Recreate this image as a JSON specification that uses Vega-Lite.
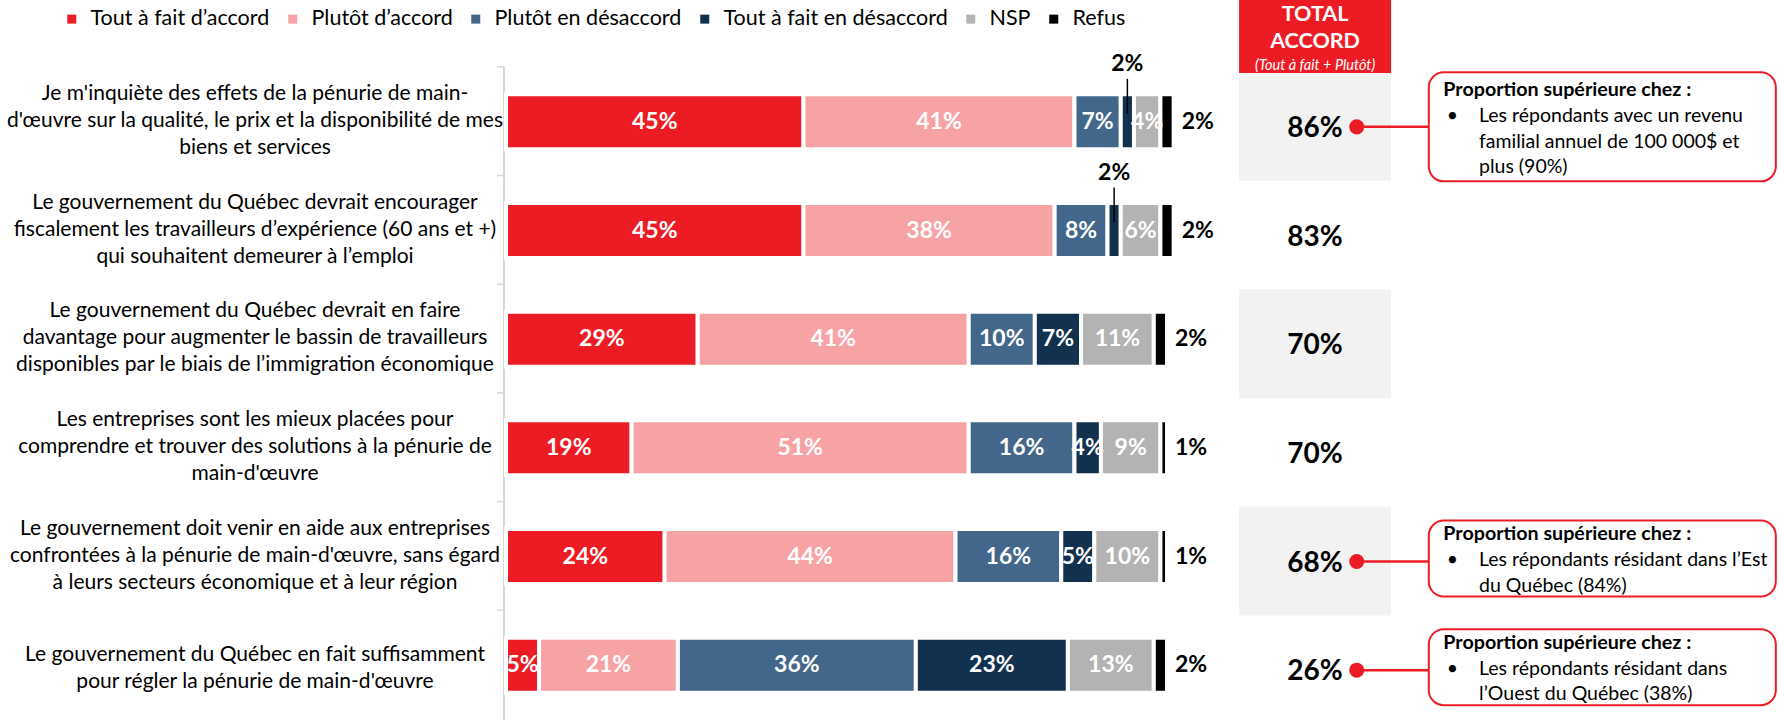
{
  "$schema": "https://vega.github.io/schema/vega-lite/v6.json",
  "width": 1276,
  "height": 720,
  "autosize": {"type": "none"},
  "padding": {"left": 503, "top": 0, "right": 0, "bottom": 0},
  "background": "white",
  "config": {"view": {"stroke": null}, "font": "Lato"},
  "datasets": {
    "bars": [
      {"row": 1, "k": 1, "cat": "Tout à fait d’accord", "v": 45},
      {"row": 1, "k": 2, "cat": "Plutôt d’accord", "v": 41},
      {"row": 1, "k": 3, "cat": "Plutôt en désaccord", "v": 7},
      {"row": 1, "k": 4, "cat": "Tout à fait en désaccord", "v": 2},
      {"row": 1, "k": 5, "cat": "NSP", "v": 4},
      {"row": 1, "k": 6, "cat": "Refus", "v": 2},
      {"row": 2, "k": 1, "cat": "Tout à fait d’accord", "v": 45},
      {"row": 2, "k": 2, "cat": "Plutôt d’accord", "v": 38},
      {"row": 2, "k": 3, "cat": "Plutôt en désaccord", "v": 8},
      {"row": 2, "k": 4, "cat": "Tout à fait en désaccord", "v": 2},
      {"row": 2, "k": 5, "cat": "NSP", "v": 6},
      {"row": 2, "k": 6, "cat": "Refus", "v": 2},
      {"row": 3, "k": 1, "cat": "Tout à fait d’accord", "v": 29},
      {"row": 3, "k": 2, "cat": "Plutôt d’accord", "v": 41},
      {"row": 3, "k": 3, "cat": "Plutôt en désaccord", "v": 10},
      {"row": 3, "k": 4, "cat": "Tout à fait en désaccord", "v": 7},
      {"row": 3, "k": 5, "cat": "NSP", "v": 11},
      {"row": 3, "k": 6, "cat": "Refus", "v": 2},
      {"row": 4, "k": 1, "cat": "Tout à fait d’accord", "v": 19},
      {"row": 4, "k": 2, "cat": "Plutôt d’accord", "v": 51},
      {"row": 4, "k": 3, "cat": "Plutôt en désaccord", "v": 16},
      {"row": 4, "k": 4, "cat": "Tout à fait en désaccord", "v": 4},
      {"row": 4, "k": 5, "cat": "NSP", "v": 9},
      {"row": 4, "k": 6, "cat": "Refus", "v": 1},
      {"row": 5, "k": 1, "cat": "Tout à fait d’accord", "v": 24},
      {"row": 5, "k": 2, "cat": "Plutôt d’accord", "v": 44},
      {"row": 5, "k": 3, "cat": "Plutôt en désaccord", "v": 16},
      {"row": 5, "k": 4, "cat": "Tout à fait en désaccord", "v": 5},
      {"row": 5, "k": 5, "cat": "NSP", "v": 10},
      {"row": 5, "k": 6, "cat": "Refus", "v": 1},
      {"row": 6, "k": 1, "cat": "Tout à fait d’accord", "v": 5},
      {"row": 6, "k": 2, "cat": "Plutôt d’accord", "v": 21},
      {"row": 6, "k": 3, "cat": "Plutôt en désaccord", "v": 36},
      {"row": 6, "k": 4, "cat": "Tout à fait en désaccord", "v": 23},
      {"row": 6, "k": 5, "cat": "NSP", "v": 13},
      {"row": 6, "k": 6, "cat": "Refus", "v": 2}
    ],
    "statements": [
      {"row": 1, "lines": ["Je m'inquiète des effets de la pénurie de main-", "d'œuvre sur la qualité, le prix et la disponibilité de mes", "biens et services"]},
      {"row": 2, "lines": ["Le gouvernement du Québec devrait encourager", "fiscalement les travailleurs d’expérience (60 ans et +)", "qui souhaitent demeurer à l’emploi"]},
      {"row": 3, "lines": ["Le gouvernement du Québec devrait en faire", "davantage pour augmenter le bassin de travailleurs", "disponibles par le biais de l’immigration économique"]},
      {"row": 4, "lines": ["Les entreprises sont les mieux placées pour", "comprendre et trouver des solutions à la pénurie de", "main-d'œuvre"]},
      {"row": 5, "lines": ["Le gouvernement doit venir en aide aux entreprises", "confrontées à la pénurie de main-d'œuvre, sans égard", "à leurs secteurs économique et à leur région"]},
      {"row": 6, "lines": ["Le gouvernement du Québec en fait suffisamment", "pour régler la pénurie de main-d'œuvre"]}
    ],
    "totals": [
      {"row": 1, "total": "86%"},
      {"row": 2, "total": "83%"},
      {"row": 3, "total": "70%"},
      {"row": 4, "total": "70%"},
      {"row": 5, "total": "68%"},
      {"row": 6, "total": "26%"}
    ],
    "callouts": [
      {"row": 1, "n": 3, "head": "Proportion supérieure chez :", "body": ["Les répondants avec un revenu", "familial annuel de 100 000$ et", "plus (90%)"]},
      {"row": 5, "n": 2, "head": "Proportion supérieure chez :", "body": ["Les répondants résidant dans l’Est", "du Québec (84%)"]},
      {"row": 6, "n": 2, "head": "Proportion supérieure chez :", "body": ["Les répondants résidant dans", "l’Ouest du Québec (38%)"]}
    ],
    "header": [
      {"title": ["TOTAL", "ACCORD"], "sub": "(Tout à fait + Plutôt)"}
    ]
  },
  "layer": [
    {
      "data": {"name": "statements"},
      "mark": {"type": "rule", "color": "#D9D9D9", "strokeWidth": 2, "yOffset": -55, "y2Offset": 56},
      "encoding": {
        "x": {"datum": -0.3, "type": "quantitative", "scale": {"domain": [-0.454, 192.58], "nice": false, "zero": false}, "axis": null},
        "y": {"field": "row", "type": "quantitative", "scale": {"domain": [-0.0753, 6.4583], "reverse": true, "nice": false, "zero": false}, "axis": null},
        "y2": {"field": "row"}
      }
    },
    {
      "data": {"name": "statements"},
      "mark": {"type": "rule", "color": "#D9D9D9", "strokeWidth": 1.5, "yOffset": -55},
      "encoding": {
        "x": {"datum": -1.36, "type": "quantitative", "scale": {"domain": [-0.454, 192.58], "nice": false, "zero": false}, "axis": null},
        "x2": {"datum": -0.3},
        "y": {"field": "row", "type": "quantitative", "scale": {"domain": [-0.0753, 6.4583], "reverse": true, "nice": false, "zero": false}, "axis": null}
      }
    },
    {
      "data": {"name": "statements"},
      "transform": [{"filter": "length(datum.lines) == 3"}],
      "mark": {"type": "text", "align": "center", "baseline": "middle", "dy": -28, "fontSize": 21, "lineHeight": 27, "color": "#000000"},
      "encoding": {
        "x": {"datum": -37.97, "type": "quantitative", "scale": {"domain": [-0.454, 192.58], "nice": false, "zero": false}, "axis": null},
        "y": {"field": "row", "type": "quantitative", "scale": {"domain": [-0.0753, 6.4583], "reverse": true, "nice": false, "zero": false}, "axis": null},
        "text": {"field": "lines"}
      }
    },
    {
      "data": {"name": "statements"},
      "transform": [{"filter": "length(datum.lines) == 2"}],
      "mark": {"type": "text", "align": "center", "baseline": "middle", "dy": -10, "fontSize": 21, "lineHeight": 27, "color": "#000000"},
      "encoding": {
        "x": {"datum": -37.97, "type": "quantitative", "scale": {"domain": [-0.454, 192.58], "nice": false, "zero": false}, "axis": null},
        "y": {"field": "row", "type": "quantitative", "scale": {"domain": [-0.0753, 6.4583], "reverse": true, "nice": false, "zero": false}, "axis": null},
        "text": {"field": "lines"}
      }
    },
    {
      "data": {"name": "totals"},
      "transform": [{"filter": "datum.row % 2 == 1"}],
      "mark": {"type": "rect", "color": "#F2F2F2", "yOffset": -50, "y2Offset": 59},
      "encoding": {
        "x": {"datum": 110.9, "type": "quantitative", "scale": {"domain": [-0.454, 192.58], "nice": false, "zero": false}, "axis": null},
        "x2": {"datum": 133.9},
        "y": {"field": "row", "type": "quantitative", "scale": {"domain": [-0.0753, 6.4583], "reverse": true, "nice": false, "zero": false}, "axis": null},
        "y2": {"field": "row"}
      }
    },
    {
      "data": {"name": "header"},
      "mark": {"type": "rect", "color": "#ED1C24"},
      "encoding": {
        "x": {"datum": 110.9, "type": "quantitative", "scale": {"domain": [-0.454, 192.58], "nice": false, "zero": false}, "axis": null},
        "x2": {"datum": 133.9},
        "y": {"datum": -0.2, "type": "quantitative", "scale": {"domain": [-0.0753, 6.4583], "reverse": true, "nice": false, "zero": false}, "axis": null},
        "y2": {"datum": 0.5508}
      }
    },
    {
      "data": {"name": "header"},
      "mark": {"type": "text", "align": "center", "baseline": "middle", "dy": -11, "fontSize": 21.5, "fontWeight": "bold", "lineHeight": 27, "color": "white"},
      "encoding": {
        "x": {"datum": 122.39, "type": "quantitative", "scale": {"domain": [-0.454, 192.58], "nice": false, "zero": false}, "axis": null},
        "y": {"datum": 0.122, "type": "quantitative", "scale": {"domain": [-0.0753, 6.4583], "reverse": true, "nice": false, "zero": false}, "axis": null},
        "text": {"field": "title"}
      }
    },
    {
      "data": {"name": "header"},
      "mark": {"type": "text", "align": "center", "baseline": "middle", "fontSize": 14.5, "fontStyle": "italic", "color": "white"},
      "encoding": {
        "x": {"datum": 122.39, "type": "quantitative", "scale": {"domain": [-0.454, 192.58], "nice": false, "zero": false}, "axis": null},
        "y": {"datum": 0.482, "type": "quantitative", "scale": {"domain": [-0.0753, 6.4583], "reverse": true, "nice": false, "zero": false}, "axis": null},
        "text": {"field": "sub"}
      }
    },
    {
      "data": {"name": "bars"},
      "transform": [{"stack": "v", "groupby": ["row"], "sort": [{"field": "k", "order": "ascending"}], "as": ["x0", "x1"]}],
      "mark": {"type": "bar", "orient": "horizontal", "height": 55, "stroke": "white", "strokeWidth": 4},
      "encoding": {
        "y": {"field": "row", "type": "quantitative", "scale": {"domain": [-0.0753, 6.4583], "reverse": true, "nice": false, "zero": false}, "axis": null},
        "x": {"field": "x0", "type": "quantitative", "scale": {"domain": [-0.454, 192.58], "nice": false, "zero": false}, "axis": null},
        "x2": {"field": "x1"},
        "color": {
          "field": "cat",
          "type": "nominal",
          "scale": {
            "domain": ["Tout à fait d’accord", "Plutôt d’accord", "Plutôt en désaccord", "Tout à fait en désaccord", "NSP", "Refus"],
            "range": ["#ED1C24", "#F7A3A6", "#43678B", "#12314E", "#B3B3B3", "#000000"]
          },
          "legend": {
            "orient": "none",
            "legendX": -442,
            "legendY": 8,
            "direction": "horizontal",
            "title": null,
            "symbolType": "square",
            "symbolSize": 81,
            "symbolStrokeWidth": 0,
            "symbolOpacity": 1,
            "labelFontSize": 21.5,
            "labelFont": "Lato",
            "labelLimit": 0,
            "labelColor": "#000000",
            "labelOffset": 8,
            "columnPadding": 12
          }
        }
      }
    },
    {
      "data": {"name": "bars"},
      "transform": [
        {"stack": "v", "groupby": ["row"], "sort": [{"field": "k", "order": "ascending"}], "as": ["x0", "x1"]},
        {"calculate": "(datum.x0 + datum.x1) / 2", "as": "mid"},
        {"calculate": "datum.v + '%'", "as": "lab"},
        {"filter": "datum.k <= 5 && !(datum.k == 4 && datum.v <= 2)"}
      ],
      "mark": {"type": "text", "align": "center", "baseline": "middle", "fontSize": 23, "fontWeight": "bold", "color": "white"},
      "encoding": {
        "y": {"field": "row", "type": "quantitative", "scale": {"domain": [-0.0753, 6.4583], "reverse": true, "nice": false, "zero": false}, "axis": null},
        "x": {"field": "mid", "type": "quantitative", "scale": {"domain": [-0.454, 192.58], "nice": false, "zero": false}, "axis": null},
        "text": {"field": "lab"}
      }
    },
    {
      "data": {"name": "bars"},
      "transform": [
        {"stack": "v", "groupby": ["row"], "sort": [{"field": "k", "order": "ascending"}], "as": ["x0", "x1"]},
        {"calculate": "(datum.x0 + datum.x1) / 2", "as": "mid"},
        {"filter": "datum.k == 4 && datum.v <= 2"}
      ],
      "mark": {"type": "rule", "color": "#000000", "strokeWidth": 1.5, "yOffset": -43, "y2Offset": -8},
      "encoding": {
        "y": {"field": "row", "type": "quantitative", "scale": {"domain": [-0.0753, 6.4583], "reverse": true, "nice": false, "zero": false}, "axis": null},
        "y2": {"field": "row"},
        "x": {"field": "mid", "type": "quantitative", "scale": {"domain": [-0.454, 192.58], "nice": false, "zero": false}, "axis": null}
      }
    },
    {
      "data": {"name": "bars"},
      "transform": [
        {"stack": "v", "groupby": ["row"], "sort": [{"field": "k", "order": "ascending"}], "as": ["x0", "x1"]},
        {"calculate": "(datum.x0 + datum.x1) / 2", "as": "mid"},
        {"calculate": "datum.v + '%'", "as": "lab"},
        {"filter": "datum.k == 4 && datum.v <= 2"}
      ],
      "mark": {"type": "text", "align": "center", "baseline": "middle", "dy": -58, "fontSize": 23, "fontWeight": "bold", "color": "#000000"},
      "encoding": {
        "y": {"field": "row", "type": "quantitative", "scale": {"domain": [-0.0753, 6.4583], "reverse": true, "nice": false, "zero": false}, "axis": null},
        "x": {"field": "mid", "type": "quantitative", "scale": {"domain": [-0.454, 192.58], "nice": false, "zero": false}, "axis": null},
        "text": {"field": "lab"}
      }
    },
    {
      "data": {"name": "bars"},
      "transform": [
        {"stack": "v", "groupby": ["row"], "sort": [{"field": "k", "order": "ascending"}], "as": ["x0", "x1"]},
        {"calculate": "datum.v + '%'", "as": "lab"},
        {"filter": "datum.k == 6"}
      ],
      "mark": {"type": "text", "align": "left", "baseline": "middle", "dx": 8, "fontSize": 23, "fontWeight": "bold", "color": "#000000"},
      "encoding": {
        "y": {"field": "row", "type": "quantitative", "scale": {"domain": [-0.0753, 6.4583], "reverse": true, "nice": false, "zero": false}, "axis": null},
        "x": {"field": "x1", "type": "quantitative", "scale": {"domain": [-0.454, 192.58], "nice": false, "zero": false}, "axis": null},
        "text": {"field": "lab"}
      }
    },
    {
      "data": {"name": "totals"},
      "mark": {"type": "text", "align": "center", "baseline": "middle", "dy": 7, "fontSize": 28, "fontWeight": "bold", "color": "#000000"},
      "encoding": {
        "x": {"datum": 122.39, "type": "quantitative", "scale": {"domain": [-0.454, 192.58], "nice": false, "zero": false}, "axis": null},
        "y": {"field": "row", "type": "quantitative", "scale": {"domain": [-0.0753, 6.4583], "reverse": true, "nice": false, "zero": false}, "axis": null},
        "text": {"field": "total"}
      }
    },
    {
      "data": {"name": "callouts"},
      "mark": {"type": "rule", "color": "#ED1C24", "strokeWidth": 2.5, "yOffset": 5},
      "encoding": {
        "x": {"datum": 128.7, "type": "quantitative", "scale": {"domain": [-0.454, 192.58], "nice": false, "zero": false}, "axis": null},
        "x2": {"datum": 139.6},
        "y": {"field": "row", "type": "quantitative", "scale": {"domain": [-0.0753, 6.4583], "reverse": true, "nice": false, "zero": false}, "axis": null}
      }
    },
    {
      "data": {"name": "callouts"},
      "mark": {"type": "point", "filled": true, "opacity": 1, "color": "#ED1C24", "size": 227, "yOffset": 5},
      "encoding": {
        "x": {"datum": 128.7, "type": "quantitative", "scale": {"domain": [-0.454, 192.58], "nice": false, "zero": false}, "axis": null},
        "y": {"field": "row", "type": "quantitative", "scale": {"domain": [-0.0753, 6.4583], "reverse": true, "nice": false, "zero": false}, "axis": null}
      }
    },
    {
      "data": {"name": "callouts"},
      "transform": [{"filter": "datum.n == 3"}],
      "mark": {"type": "rect", "fill": "white", "stroke": "#ED1C24", "strokeWidth": 2, "cornerRadius": 15, "yOffset": -49.5, "y2Offset": 59.5},
      "encoding": {
        "x": {"datum": 139.6, "type": "quantitative", "scale": {"domain": [-0.454, 192.58], "nice": false, "zero": false}, "axis": null},
        "x2": {"datum": 192.1},
        "y": {"field": "row", "type": "quantitative", "scale": {"domain": [-0.0753, 6.4583], "reverse": true, "nice": false, "zero": false}, "axis": null},
        "y2": {"field": "row"}
      }
    },
    {
      "data": {"name": "callouts"},
      "transform": [{"filter": "datum.n == 2"}],
      "mark": {"type": "rect", "fill": "white", "stroke": "#ED1C24", "strokeWidth": 2, "cornerRadius": 15, "yOffset": -36, "y2Offset": 40},
      "encoding": {
        "x": {"datum": 139.6, "type": "quantitative", "scale": {"domain": [-0.454, 192.58], "nice": false, "zero": false}, "axis": null},
        "x2": {"datum": 192.1},
        "y": {"field": "row", "type": "quantitative", "scale": {"domain": [-0.0753, 6.4583], "reverse": true, "nice": false, "zero": false}, "axis": null},
        "y2": {"field": "row"}
      }
    },
    {
      "data": {"name": "callouts"},
      "transform": [{"filter": "datum.n == 3"}],
      "mark": {"type": "text", "align": "left", "baseline": "middle", "dy": -31.5, "fontSize": 19.7, "fontWeight": "bold", "color": "#000000"},
      "encoding": {
        "x": {"datum": 141.8, "type": "quantitative", "scale": {"domain": [-0.454, 192.58], "nice": false, "zero": false}, "axis": null},
        "y": {"field": "row", "type": "quantitative", "scale": {"domain": [-0.0753, 6.4583], "reverse": true, "nice": false, "zero": false}, "axis": null},
        "text": {"field": "head"}
      }
    },
    {
      "data": {"name": "callouts"},
      "transform": [{"filter": "datum.n == 2"}],
      "mark": {"type": "text", "align": "left", "baseline": "middle", "dy": -22.5, "fontSize": 19.7, "fontWeight": "bold", "color": "#000000"},
      "encoding": {
        "x": {"datum": 141.8, "type": "quantitative", "scale": {"domain": [-0.454, 192.58], "nice": false, "zero": false}, "axis": null},
        "y": {"field": "row", "type": "quantitative", "scale": {"domain": [-0.0753, 6.4583], "reverse": true, "nice": false, "zero": false}, "axis": null},
        "text": {"field": "head"}
      }
    },
    {
      "data": {"name": "callouts"},
      "transform": [{"filter": "datum.n == 3"}],
      "mark": {"type": "text", "text": "•", "align": "left", "baseline": "middle", "dy": -5.5, "fontSize": 19.5, "color": "#000000"},
      "encoding": {
        "x": {"datum": 142.3, "type": "quantitative", "scale": {"domain": [-0.454, 192.58], "nice": false, "zero": false}, "axis": null},
        "y": {"field": "row", "type": "quantitative", "scale": {"domain": [-0.0753, 6.4583], "reverse": true, "nice": false, "zero": false}, "axis": null}
      }
    },
    {
      "data": {"name": "callouts"},
      "transform": [{"filter": "datum.n == 2"}],
      "mark": {"type": "text", "text": "•", "align": "left", "baseline": "middle", "dy": 3.5, "fontSize": 19.5, "color": "#000000"},
      "encoding": {
        "x": {"datum": 142.3, "type": "quantitative", "scale": {"domain": [-0.454, 192.58], "nice": false, "zero": false}, "axis": null},
        "y": {"field": "row", "type": "quantitative", "scale": {"domain": [-0.0753, 6.4583], "reverse": true, "nice": false, "zero": false}, "axis": null}
      }
    },
    {
      "data": {"name": "callouts"},
      "transform": [{"filter": "datum.n == 3"}],
      "mark": {"type": "text", "align": "left", "baseline": "middle", "dy": -5.5, "lineHeight": 25.5, "fontSize": 19.5, "color": "#000000"},
      "encoding": {
        "x": {"datum": 147.2, "type": "quantitative", "scale": {"domain": [-0.454, 192.58], "nice": false, "zero": false}, "axis": null},
        "y": {"field": "row", "type": "quantitative", "scale": {"domain": [-0.0753, 6.4583], "reverse": true, "nice": false, "zero": false}, "axis": null},
        "text": {"field": "body"}
      }
    },
    {
      "data": {"name": "callouts"},
      "transform": [{"filter": "datum.n == 2"}],
      "mark": {"type": "text", "align": "left", "baseline": "middle", "dy": 3.5, "lineHeight": 25.5, "fontSize": 19.5, "color": "#000000"},
      "encoding": {
        "x": {"datum": 147.2, "type": "quantitative", "scale": {"domain": [-0.454, 192.58], "nice": false, "zero": false}, "axis": null},
        "y": {"field": "row", "type": "quantitative", "scale": {"domain": [-0.0753, 6.4583], "reverse": true, "nice": false, "zero": false}, "axis": null},
        "text": {"field": "body"}
      }
    }
  ]
}
